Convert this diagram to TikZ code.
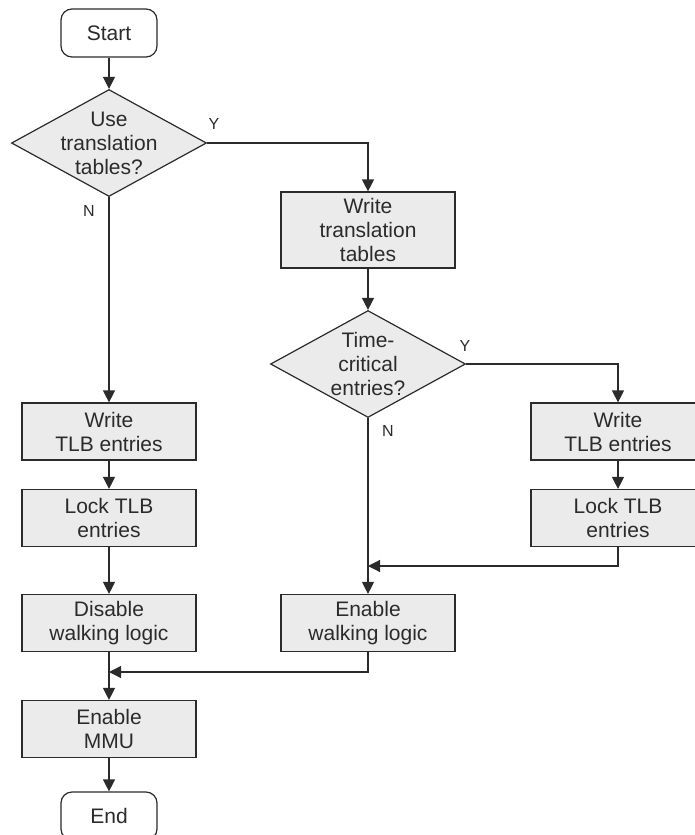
\documentclass[tikz,border=0pt]{standalone}
\usepackage{fontspec}
\setmainfont{Liberation Sans}
\usetikzlibrary{shapes.geometric,arrows.meta}
\definecolor{boxfill}{HTML}{EBEBEB}
\definecolor{ink}{HTML}{2B2B2B}
\begin{document}
\begin{tikzpicture}[x=1pt,y=-1pt,
  every node/.style={font=\fontsize{21}{24}\selectfont, text=ink},
  proc/.style={draw=ink, fill=boxfill, line width=1.2pt, minimum width=174pt, minimum height=57pt, inner sep=0, align=center},
  term/.style={draw=ink, fill=white, rounded corners=11pt, line width=1.2pt, minimum width=96pt, minimum height=48pt, inner sep=0},
  dec/.style={draw=ink, fill=boxfill, diamond, line width=1.2pt, minimum width=195pt, minimum height=107pt, inner sep=0},
  lbl/.style={font=\fontsize{16}{19}\selectfont, inner sep=0},
  txt/.style={align=center, inner sep=0},
  flow/.style={draw=ink, line width=1.2pt, -{Triangle[length=12pt,width=12pt]}}]
\useasboundingbox (0,0) rectangle (694,835);

\node[term] (start) at (109,33) {Start};
\node[dec] (d1) at (109,143) {};
\node[txt] (d1t) at (d1.center) {Use\\translation\\tables?};
\node[lbl] (y1) at (214,124) {Y};
\node[lbl] (n1) at (89,211) {N};

\node[proc, minimum height=76pt] (wtt) at (368,230) {Write\\translation\\tables};
\node[dec] (d2) at (368,364) {};
\node[txt] (d2t) at (d2.center) {Time-\\critical\\entries?};
\node[lbl] (y2) at (465,346) {Y};
\node[lbl] (n2) at (388,431) {N};

\node[proc] (wtlbR) at (618,431.5) {Write\\TLB entries};
\node[proc] (ltlbR) at (618,518) {Lock TLB\\entries};
\node[proc] (ewl) at (368,623) {Enable\\walking logic};

\node[proc] (wtlbL) at (109,431.5) {Write\\TLB entries};
\node[proc] (ltlbL) at (109,518) {Lock TLB\\entries};
\node[proc] (dwl) at (109,623) {Disable\\walking logic};
\node[proc] (mmu) at (109,729) {Enable\\MMU};
\node[term] (end) at (109,816) {End};

\coordinate (m2) at (368,566);
\coordinate (m1) at (109,672);

\draw[flow] (start) -- (d1);
\draw[flow] (d1.east) -| (wtt.north);
\draw[flow] (d1.south) -- (wtlbL.north);
\draw[flow] (wtlbL) -- (ltlbL);
\draw[flow] (ltlbL) -- (dwl);
\draw[flow] (dwl) -- (mmu);
\draw[flow] (mmu) -- (end);
\draw[flow] (wtt) -- (d2);
\draw[flow] (d2.east) -| (wtlbR.north);
\draw[flow] (wtlbR) -- (ltlbR);
\draw[flow] (ltlbR.south) |- (m2);
\draw[flow] (d2.south) -- (ewl.north);
\draw[flow] (ewl.south) |- (m1);
\end{tikzpicture}
\end{document}
